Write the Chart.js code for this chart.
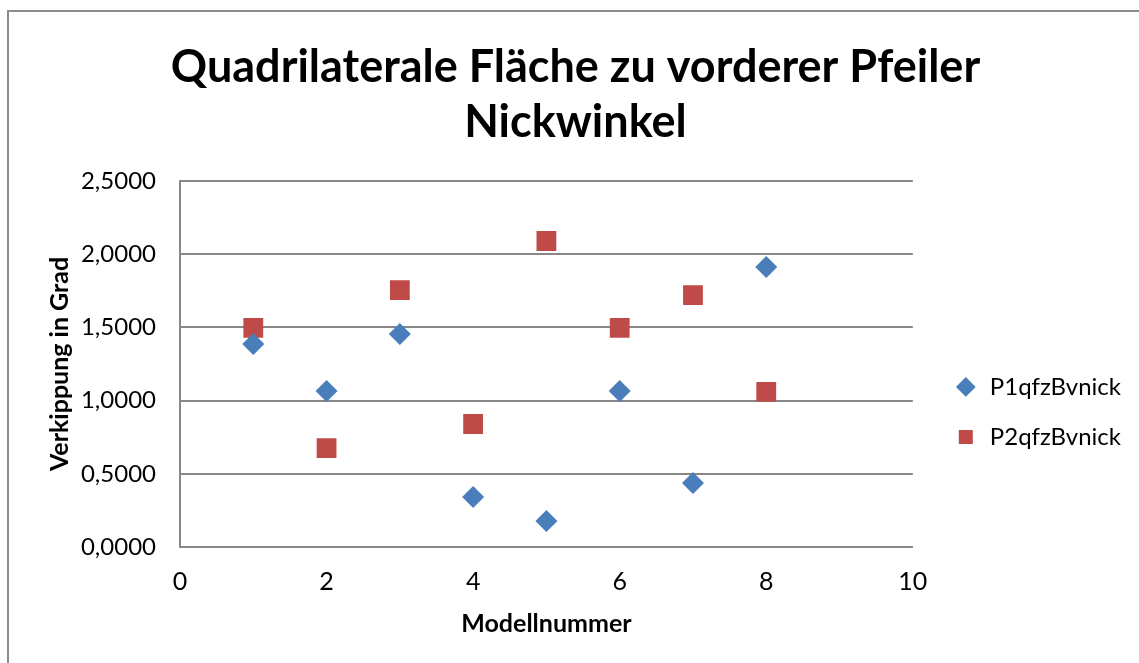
<!DOCTYPE html>
<html>
<head>
<meta charset="utf-8">
<title>Quadrilaterale Fläche zu vorderer Pfeiler Nickwinkel</title>
<script src="https://cdn.jsdelivr.net/npm/chart.js@4"></script>
<style>
  html, body { margin: 0; padding: 0; background: #fff; }
  #wrap { position: relative; width: 1139px; height: 663px; overflow: hidden; }
  #frame {
    position: absolute; left: 7px; top: 10px; right: -10px; bottom: -10px;
    border-left: 2px solid #8c8c8c; border-top: 2px solid #8c8c8c;
  }
  canvas { position: absolute; left: 0; top: 0; }
</style>
</head>
<body>
<div id="wrap">
  <div id="frame"></div>
  <canvas id="chart" width="1139" height="663"></canvas>
</div>
<script>
// Model numbers and tilt values (degrees) per series
const modelle = [1, 2, 3, 4, 5, 6, 7, 8];
const p1Values = [1.387, 1.066, 1.455, 0.342, 0.178, 1.066, 0.437, 1.913];
const p2Values = [1.496, 0.676, 1.755, 0.840, 2.090, 1.496, 1.721, 1.059];
const seriesNames = ["P1qfzBvnick", "P2qfzBvnick"];
const titleLines = ["Quadrilaterale Fläche zu vorderer Pfeiler", "Nickwinkel"];

const FONT = "Lato, 'Open Sans', sans-serif";
const gridColor = "#878787";

function toPoints(values) {
  return modelle.map((m, i) => ({ x: m, y: values[i] }));
}

const ctx = document.getElementById("chart").getContext("2d");
new Chart(ctx, {
  type: "scatter",
  data: {
    datasets: [
      {
        label: seriesNames[0],
        data: toPoints(p1Values),
        pointStyle: "rectRot",
        pointRadius: 11,
        backgroundColor: "#4a7ebb",
        borderColor: "#4a7ebb",
        borderWidth: 0,
      },
      {
        label: seriesNames[1],
        data: toPoints(p2Values),
        pointStyle: "rect",
        pointRadius: 14,
        backgroundColor: "#be4b48",
        borderColor: "#be4b48",
        borderWidth: 0,
      },
    ],
  },
  options: {
    responsive: false,
    animation: false,
    layout: { padding: { left: 20, right: 8, top: 0, bottom: 24 } },
    plugins: {
      title: {
        display: true,
        text: titleLines,
        color: "#000",
        font: { family: FONT, size: 45, weight: "bold", lineHeight: 1.222 },
        padding: { top: 40, bottom: 31 },
      },
      legend: {
        position: "right",
        maxWidth: 214,
        // empty legend title only pushes the entries down
        title: { display: true, text: "", padding: { top: 156, bottom: 0 }, font: { size: 24 } },
        labels: {
          usePointStyle: true,
          boxHeight: 14,
          color: "#000",
          font: { family: FONT, size: 24 },
          padding: 26,
        },
      },
      tooltip: { enabled: false },
    },
    scales: {
      x: {
        type: "linear",
        min: 0,
        max: 10,
        afterFit: (scale) => {
          scale.height = 92;
        },
        ticks: {
          stepSize: 2,
          color: "#000",
          font: { family: FONT, size: 25 },
          padding: 20,
        },
        grid: { display: false, drawTicks: false },
        border: { display: true, color: gridColor, width: 2 },
        title: {
          display: true,
          text: "Modellnummer",
          color: "#000",
          font: { family: FONT, size: 25, weight: "bold" },
          padding: { top: 0, bottom: 0 },
        },
      },
      y: {
        min: 0,
        max: 2.5,
        afterFit: (scale) => {
          scale.width = 160;
        },
        ticks: {
          stepSize: 0.5,
          color: "#000",
          font: { family: FONT, size: 24 },
          padding: 24,
          callback: (v) => v.toFixed(4).replace(".", ","),
        },
        grid: { color: gridColor, lineWidth: 2, drawTicks: false },
        border: { display: true, color: gridColor, width: 2 },
        title: {
          display: true,
          text: "Verkippung in Grad",
          color: "#000",
          font: { family: FONT, size: 25, weight: "bold" },
          padding: { top: 25, bottom: 0 },
        },
      },
      // empty strip between plot and legend
      gap: {
        type: "linear",
        position: "right",
        display: true,
        afterFit: (scale) => {
          scale.width = 15;
        },
        ticks: { display: false },
        grid: { display: false, drawTicks: false },
        border: { display: false },
      },
    },
  },
});
</script>
</body>
</html>
